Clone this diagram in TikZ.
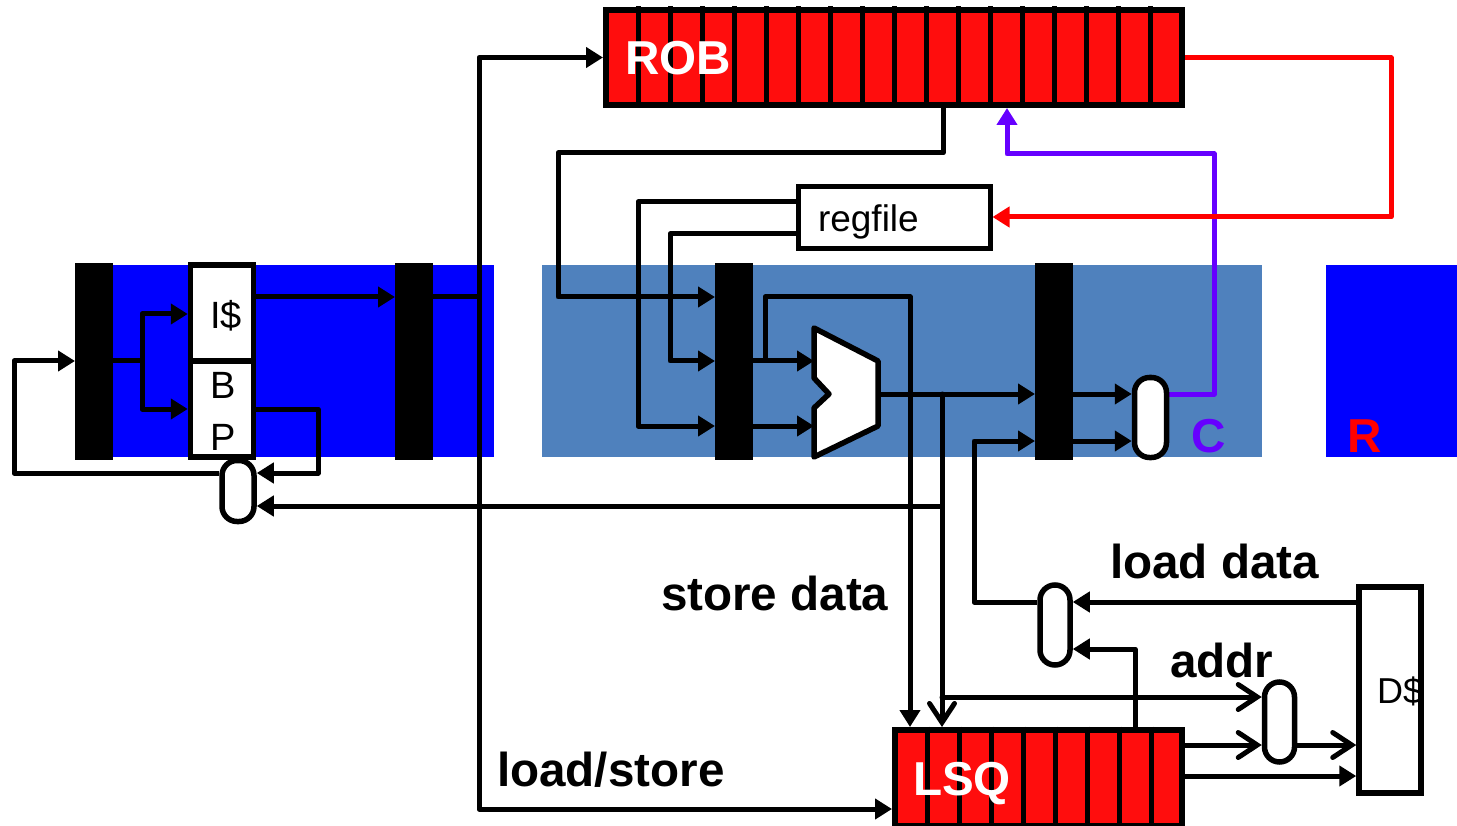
\documentclass[tikz,border=0pt]{standalone}
\usepackage{fontspec}
\setmainfont{Liberation Sans}
\usetikzlibrary{arrows.meta}
\definecolor{stageblue}{HTML}{0000FF}
\definecolor{stagesteel}{HTML}{4F81BD}
\definecolor{cellred}{HTML}{FF0D0D}
\definecolor{commitpurple}{HTML}{6600FF}
\pgfdeclarelayer{stages}
\pgfdeclarelayer{wires}
\pgfsetlayers{stages,wires,main}
\tikzset{
  x=1pt,y=-1pt,
  bg/.style={fill=#1,draw=none,inner sep=0,outer sep=0,minimum height=192},
  latch/.style={fill=black,draw=none,inner sep=0,outer sep=0,minimum width=38,minimum height=197},
  wire/.style={line width=5,line join=round,draw=black},
  headtip/.tip={Triangle[length=17pt,width=20pt]},
  tip/.style={wire,-headtip},
  barb/.style={wire,line cap=round,-{Straight Barb[length=19pt,width=25pt,line cap=round]}},
  whitebox/.style={draw=black,fill=white,line width=5.5,inner sep=0,minimum width=#1},
  muxbox/.style={draw=black,fill=white,line width=5.5,rounded corners=15,inner sep=0,minimum width=#1},
  queue/.style={draw=black,fill=cellred,line width=6,inner sep=0},
  divider/.style={line width=5,draw=black},
  label/.style={inner sep=0,outer sep=0,anchor=base west},
  big/.style={label,font=\bfseries\fontsize{47.6}{50}\selectfont},
  mid/.style={label,font=\fontsize{38}{40}\selectfont},
}
\begin{document}
\begin{tikzpicture}
\useasboundingbox (0,0) rectangle (1457,826);
\begin{pgfonlayer}{stages}
\node[bg=stageblue,minimum width=400] (s1) at (294,361) {};
\node[bg=stagesteel,minimum width=720] (s2) at (902,361) {};
\node[bg=stageblue,minimum width=131] (s3) at (1391.5,361) {};
\node[latch] (l1) at (94,361.5) {};
\node[latch] (l2) at (414,361.5) {};
\node[latch] (l3) at (734,361.5) {};
\node[latch] (l4) at (1054,361.5) {};
\end{pgfonlayer}
% ALU outline points
\coordinate (a1) at (814,328);
\coordinate (a2) at (878,361);
\coordinate (a3) at (878,426);
\coordinate (a4) at (814,457);
\coordinate (a5) at (814,408);
\coordinate (a6) at (829,394);
\coordinate (a7) at (814,378);
\draw[line width=5.5,line join=round,fill=white] (a1) -- (a2) -- (a3) -- (a4) -- (a5) -- (a6) -- (a7) -- cycle;
% boxes
\node[queue,minimum width=576,minimum height=95] (rob) at (894,57.5) {};
\node[queue,minimum width=287,minimum height=96] (lsq) at (1038.5,778) {};
\foreach \k in {1,...,17} \draw[divider] (606+32*\k,6.5) -- (606+32*\k,108.5);
\foreach \k in {1,...,8} \draw[divider] (895+32*\k,726.5) -- (895+32*\k,826);
\node[whitebox=192,line width=5,minimum height=62] (reg) at (894,217.5) {};
\node[whitebox=63,minimum height=96] (ic) at (222,313) {};
\node[whitebox=63,minimum height=96] (bp) at (222,409) {};
\node[whitebox=62,minimum height=206] (dc) at (1390,690) {};
\node[muxbox=32,minimum height=61] (m1) at (238,491) {};
\node[muxbox=32,minimum height=80] (m2) at (1150.5,417.5) {};
\node[muxbox=30,minimum height=80] (m3) at (1055,625) {};
\node[muxbox=30,minimum height=80] (m4) at (1279.5,722) {};
% junctions
\coordinate (j1) at (142,361);
\coordinate (j2) at (479,297);
\coordinate (j3) at (942,394);
\coordinate (j4) at (942,506);
\coordinate (j5) at (942,697);
\coordinate (j6) at (765,361);
\begin{pgfonlayer}{wires}
\draw[wire] (l1.east |- j1) -- (j1);
\draw[tip] (j1) |- (ic.west |- 0,314);
\draw[tip] (j1) |- (bp.west);
\draw[tip] (ic.east |- 0,297) -- (l2.west |- 0,297);
\draw[wire] (l2.east |- j2) -- (j2);
\draw[tip] (j2) |- (rob.west);
\draw[tip] (j2) |- (lsq.west |- 0,809);
\draw[tip] (bp.east) -| (318,473) -- (m1.east |- 0,473);
\draw[tip] (m1.west |- 0,473) -- (14,473) -- (14,361) -- (l1.west |- 0,361);
\draw[tip] (j4) -- (m1.east |- j4);
\draw[tip] (rob.south -| 943,0) -- (943,153) -- (558,153) -- (558,297) -- (l3.west |- 0,297);
\draw[tip] (reg.west |- 0,202) -- (638,202) -- (638,426) -- (l3.west |- 0,426);
\draw[tip] (reg.west |- 0,234) -- (670,234) -- (670,361) -- (l3.west |- 0,361);
\draw[tip] (l3.east |- 0,361) -- (a2 -| a1);
\draw[tip] (l3.east |- 0,426) -- (a3 -| a1);
\draw[tip] (j6) -- (765,297) -- (910,297) -- (lsq.north -| 910,0);
\draw[tip] (a6 -| a2) -- (l4.west |- a6);
\draw[barb] (j3) -- (lsq.north -| j3);
\draw[barb] (j5) -- (m4.west |- j5);
\draw[tip] (m3.west |- 0,602) -- (974,602) -- (974,441) -- (l4.west |- 0,441);
\draw[tip] (l4.east |- 0,394) -- (m2.west |- 0,394);
\draw[tip] (l4.east |- 0,441) -- (m2.west |- 0,441);
\draw[tip] (dc.west |- 0,602) -- (m3.east |- 0,602);
\draw[tip] (lsq.north -| 1135,0) -- (1135,649) -- (m3.east |- 0,649);
\draw[barb] (lsq.east |- 0,745) -- (m4.west |- 0,745);
\draw[barb] (m4.east |- 0,745) -- (dc.west |- 0,745);
\draw[tip] (lsq.east |- 0,776) -- (dc.west |- 0,776);
\draw[line width=5,line join=round,draw=commitpurple,-headtip] (m2.east |- 0,394) -- (1214,394) -- (1214,154) -- (1007,154) -- (rob.south -| 1007,0);
\draw[line width=5,line join=round,draw=red,-headtip] (rob.east |- 0,58) -- (1391,58) -- (1391,217) -- (reg.east |- 0,217);
\end{pgfonlayer}
% labels
\node[big,text=white] (trob) at (625,75) {ROB};
\node[big,text=white] (tlsq) at (913,795) {LSQ};
\node[big] (tsd) at (661,610) {store data};
\node[big] (tld) at (1110,578) {load data};
\node[big] (tad) at (1170,677) {addr};
\node[big] (tls) at (497,786) {load/store};
\node[mid,font=\fontsize{37}{40}\selectfont] (treg) at (818,232) {regfile};
\node[mid] (tic) at (210,329) {I\$};
\node[mid] (tb) at (210,399) {B};
\node[mid] (tp) at (210,450) {P};
\node[mid,font=\fontsize{36}{40}\selectfont] (tdc) at (1377,703) {D\$};
\node[big,text=commitpurple] (tc) at (1191,452) {C};
\node[big,text=red] (tr) at (1347,452) {R};
\end{tikzpicture}
\end{document}
